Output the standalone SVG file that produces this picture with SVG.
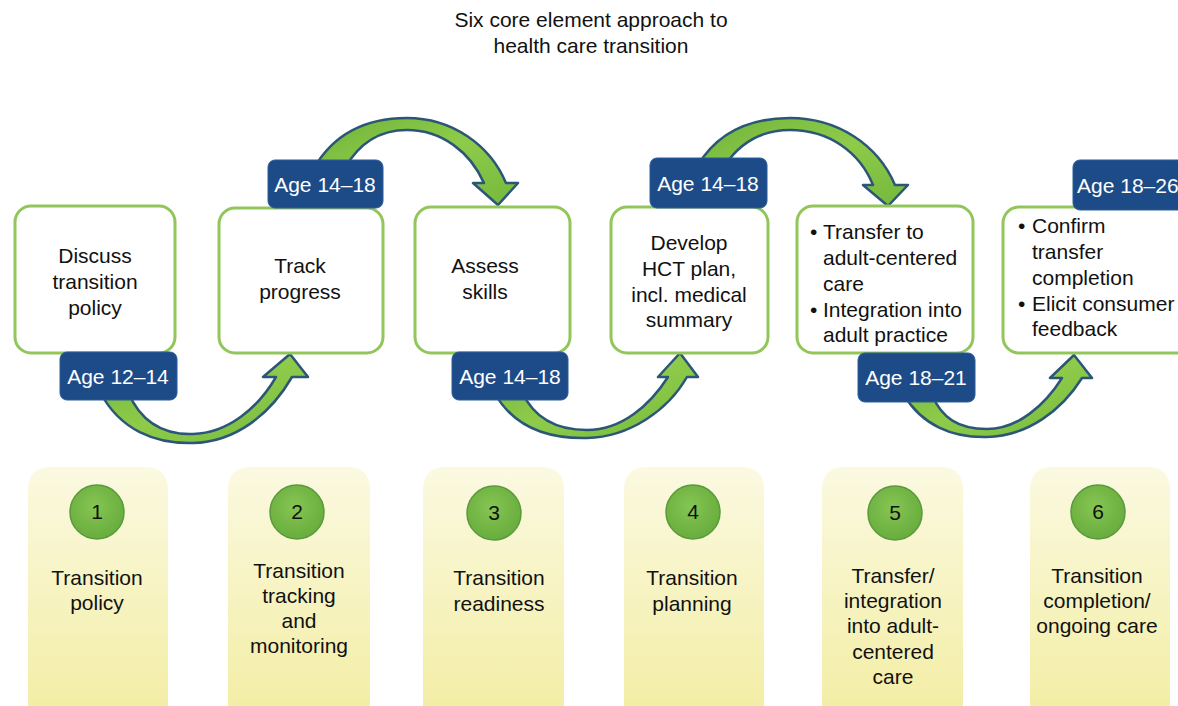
<svg xmlns="http://www.w3.org/2000/svg" width="1178" height="706" viewBox="0 0 1178 706">
<defs>
<linearGradient id="ybox" x1="0" y1="0" x2="0" y2="1">
<stop offset="0" stop-color="#fbf9e1"/>
<stop offset="1" stop-color="#f3eea6"/>
</linearGradient>
<radialGradient id="gcirc" cx="0.45" cy="0.4" r="0.6">
<stop offset="0" stop-color="#86c552"/>
<stop offset="1" stop-color="#68ad3e"/>
</radialGradient>
<linearGradient id="garrow" x1="0" y1="0" x2="1" y2="1">
<stop offset="0" stop-color="#6fb33a"/>
<stop offset="0.5" stop-color="#8fcb4a"/>
<stop offset="1" stop-color="#74b83c"/>
</linearGradient>
<style>
.t{font-family:"Liberation Sans",Arial,sans-serif;font-size:21px;fill:#111;}
.c{text-anchor:middle;}
.w{fill:#fff;}
.ybox{fill:url(#ybox);}
.circ{fill:url(#gcirc);stroke:#5a9a3c;stroke-width:1.5;}
.box{fill:#fff;stroke:#92c55a;stroke-width:3;}
.lab{fill:#1d4b88;stroke:#2b5c98;stroke-width:1;}
.arr{fill:url(#garrow);stroke:#2c5677;stroke-width:2.5;stroke-linejoin:round;}
</style>
</defs>
<rect width="1178" height="706" fill="#fff"/>

<g id="title">
<text class="t c" x="591" y="27">Six core element approach to</text>
<text class="t c" x="591" y="53">health care transition</text>
</g>

<g id="element1">
<path class="ybox" d="M28,490 Q28,467 51,467 L145,467 Q168,467 168,490 L168,706 L28,706 Z"/>
<circle class="circ" cx="97" cy="512" r="27"/>
<text class="t c" x="97" y="519">1</text>
<text class="t c" x="97" y="585">Transition</text>
<text class="t c" x="97" y="610">policy</text>
</g>
<g id="element2">
<path class="ybox" d="M228,490 Q228,467 251,467 L347,467 Q370,467 370,490 L370,706 L228,706 Z"/>
<circle class="circ" cx="297" cy="512" r="27"/>
<text class="t c" x="297" y="519">2</text>
<text class="t c" x="299" y="578">Transition</text>
<text class="t c" x="299" y="603">tracking</text>
<text class="t c" x="299" y="628">and</text>
<text class="t c" x="299" y="653">monitoring</text>
</g>
<g id="element3">
<path class="ybox" d="M423,490 Q423,467 446,467 L541,467 Q564,467 564,490 L564,706 L423,706 Z"/>
<circle class="circ" cx="494" cy="513" r="27"/>
<text class="t c" x="494" y="520">3</text>
<text class="t c" x="499" y="585">Transition</text>
<text class="t c" x="499" y="611">readiness</text>
</g>
<g id="element4">
<path class="ybox" d="M624,490 Q624,467 647,467 L741,467 Q764,467 764,490 L764,706 L624,706 Z"/>
<circle class="circ" cx="693" cy="512" r="27"/>
<text class="t c" x="693" y="519">4</text>
<text class="t c" x="692" y="585">Transition</text>
<text class="t c" x="692" y="611">planning</text>
</g>
<g id="element5">
<path class="ybox" d="M822,490 Q822,467 845,467 L940,467 Q963,467 963,490 L963,706 L822,706 Z"/>
<circle class="circ" cx="895" cy="513" r="27"/>
<text class="t c" x="895" y="520">5</text>
<text class="t c" x="893" y="583">Transfer/</text>
<text class="t c" x="893" y="608">integration</text>
<text class="t c" x="893" y="633">into adult-</text>
<text class="t c" x="893" y="659">centered</text>
<text class="t c" x="893" y="684">care</text>
</g>
<g id="element6">
<path class="ybox" d="M1030,490 Q1030,467 1053,467 L1147,467 Q1170,467 1170,490 L1170,706 L1030,706 Z"/>
<circle class="circ" cx="1098" cy="512" r="27"/>
<text class="t c" x="1098" y="519">6</text>
<text class="t c" x="1097" y="583">Transition</text>
<text class="t c" x="1097" y="608">completion/</text>
<text class="t c" x="1097" y="633">ongoing care</text>
</g>

<g id="connectors">
<path class="arr" d="M100,392 C120,430 155,444 193,443 C235,442 270,415 292,377 L308,377 L290,354 L263,377 L276,377 C258,408 228,433 193,434 C162,435 140,420 128,392 Z"/>
<path class="arr" d="M314,168 C335,132 368,118 407,118 C452,118 490,145 506,183 L518,183 L498,205 L473,183 L484,183 C470,152 442,130 407,130 C378,130 358,145 345,168 Z"/>
<path class="arr" d="M494,392 C512,425 545,439 587,438 C630,437 668,410 687,377 L698,377 L680,353 L658,377 L668,377 C650,405 622,430 587,430 C555,430 534,418 522,392 Z"/>
<path class="arr" d="M698,165 C718,132 750,118 790,118 C838,118 878,145 895,185 L908,185 L888,206 L863,185 L873,185 C860,153 830,130 790,130 C762,130 740,143 725,165 Z"/>
<path class="arr" d="M904,395 C922,425 952,438 987,437 C1028,436 1062,410 1082,378 L1092,378 L1074,355 L1050,378 L1062,378 C1045,405 1018,429 987,429 C958,429 942,418 932,395 Z"/>
</g>

<g id="step1">
<rect class="box" x="15" y="206" width="160" height="147" rx="16"/>
<text class="t c" x="95" y="263">Discuss</text>
<text class="t c" x="95" y="289">transition</text>
<text class="t c" x="95" y="315">policy</text>
</g>
<g id="step2">
<rect class="box" x="219" y="208" width="164" height="145" rx="16"/>
<text class="t c" x="300" y="273">Track</text>
<text class="t c" x="300" y="299">progress</text>
</g>
<g id="step3">
<rect class="box" x="415" y="207" width="155" height="146" rx="16"/>
<text class="t c" x="485" y="273">Assess</text>
<text class="t c" x="485" y="299">skills</text>
</g>
<g id="step4">
<rect class="box" x="611" y="207" width="157" height="146" rx="16"/>
<text class="t c" x="689" y="250">Develop</text>
<text class="t c" x="689" y="276">HCT plan,</text>
<text class="t c" x="689" y="302">incl. medical</text>
<text class="t c" x="689" y="327">summary</text>
</g>
<g id="step5">
<rect class="box" x="797" y="206" width="176" height="147" rx="16"/>
<text class="t" x="810" y="239">•</text>
<text class="t" x="823" y="239">Transfer to</text>
<text class="t" x="823" y="265">adult-centered</text>
<text class="t" x="823" y="291">care</text>
<text class="t" x="810" y="317">•</text>
<text class="t" x="823" y="317">Integration into</text>
<text class="t" x="823" y="342">adult practice</text>
</g>
<g id="step6">
<rect class="box" x="1003" y="207" width="190" height="146" rx="16"/>
<text class="t" x="1018" y="233">•</text>
<text class="t" x="1032" y="233">Confirm</text>
<text class="t" x="1032" y="259">transfer</text>
<text class="t" x="1032" y="285">completion</text>
<text class="t" x="1018" y="311">•</text>
<text class="t" x="1032" y="311">Elicit consumer</text>
<text class="t" x="1032" y="336">feedback</text>
</g>

<g id="age1">
<rect class="lab" x="60" y="352" width="117" height="48" rx="7"/>
<text class="t c w" x="118" y="384">Age 12–14</text>
</g>
<g id="age2">
<rect class="lab" x="268" y="160" width="115" height="48" rx="7"/>
<text class="t c w" x="325" y="192">Age 14–18</text>
</g>
<g id="age3">
<rect class="lab" x="452" y="352" width="116" height="48" rx="7"/>
<text class="t c w" x="510" y="384">Age 14–18</text>
</g>
<g id="age4">
<rect class="lab" x="650" y="158" width="117" height="50" rx="7"/>
<text class="t c w" x="708" y="191">Age 14–18</text>
</g>
<g id="age5">
<rect class="lab" x="858" y="353" width="117" height="49" rx="7"/>
<text class="t c w" x="916" y="385">Age 18–21</text>
</g>
<g id="age6">
<rect class="lab" x="1073" y="160" width="120" height="50" rx="7"/>
<text class="t w" x="1077" y="193">Age 18–26</text>
</g>
</svg>
